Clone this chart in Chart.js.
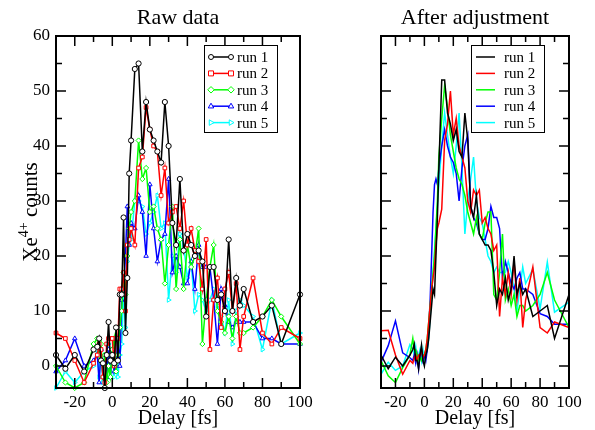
<!DOCTYPE html>
<html lang="en">
<head>
<meta charset="UTF-8">
<title>Xe4+ counts vs delay</title>
<script src="https://cdn.jsdelivr.net/npm/chart.js"></script>
<style>
  html, body { margin: 0; padding: 0; background: #fff; }
  .wrap { position: relative; width: 595px; height: 430px; }
  .wrap canvas { position: absolute; left: 0; top: 0; }
</style>
</head>
<body>
<div class="wrap">
  <canvas id="rawChart" width="595" height="430"></canvas>
  <canvas id="adjChart" width="595" height="430"></canvas>
</div>
<script>
// delay values [fs], shared by all runs
const delays = [-30, -25, -20, -15, -10,
  -8, -7, -6, -5, -4, -3, -2, -1, 0, 1, 2, 3, 4, 5, 6, 7, 8, 9, 10,
  12, 14, 16, 18, 20, 22, 24, 26, 28, 30, 32, 34, 36, 38, 40, 42, 44, 46, 48, 50,
  52, 54, 56, 58, 60, 62, 64, 66, 68, 70,
  75, 80, 85, 90, 100];

// raw counts
const run1Raw = [2, -0.5, 2, -1, 3,
  3.5, 5, 1, 0.5, -4, 2, 8, 1, 2, 0.5, 7, 1, 13, 13, 27, 6, 16, 35, 41,
  54, 55, 39, 48, 43, 41, 39, 37, 48, 40, 26, 22, 34, 21, 24, 22, 20, 21, 19, 9,
  18, 18, 12, 13, 10, 23, 10, 16, 11, 14,
  8, 9, 11, 4, 13];
const run2Raw = [6, 5, 1, -3, 0.5,
  2, 4, 3, -2, -3, 4, 5, 5, 5, 0, 5, 5, 14, 14, 17, 10, 22, 23, 25,
  22, 36, 38, 47, 43, 40, 39, 31, 36, 26, 28, 29, 25, 30, 22, 25, 21, 19, 14, 23,
  3, 12, 16, 7, 14, 17, 10, 15, 3, 9,
  16, 6, 4, 7, 5];
const run3Raw = [0, -3, -4, -3, 4,
  5, 2, 4, -2, 2, -3, 0, -2, 3, 5, -1, 2, 7, 10, 17, 13, 20, 25, 28,
  30, 41, 34, 36, 28, 29, 25, 23, 15, 22, 29, 14, 23, 14, 22, 18, 20, 25, 4, 12,
  18, 22, 10, 8, 6, 9, 5, 9, 6, 6,
  7, 9, 12, 9, 4];
const run4Raw = [-1, 1, 5, 0, 1,
  2, -3, 3, -2, 1, -2, 3, -2, 3, -1, 0, 5, 0, 12, 14, 20, 29, 22, 26,
  25, 31, 28, 20, 33, 25, 19, 23, 24, 34, 17, 20, 18, 15, 15, 19, 14, 22, 18, 18,
  18, 12, 4, 14, 11, 8, 7, 8, 8, 8,
  8, 5, 5, 4, 4];
const run5Raw = [-4, -1, -3, -1, 0,
  3, -2, 3, -3, 2, -1, 4, -2, 3, -2, 2, -2, 2, 4, 13, 7, 19, 22, 23,
  30, 30, 29, 24, 26, 28, 31, 25, 26, 12, 20, 17, 24, 22, 16, 19, 10, 13, 12, 10,
  12, 14, 11, 9, 6, 12, 4, 10, 12, 11,
  9, 3, 12, 4, 6];

// counts after adjustment
const run1Adj = [2, -0.5, 1.6, 0, 2,
  3, 4, 1, 1, -0.5, 2, 3.8, 1, 0, 2, 3, 5, 8, 11, 14, 13, 20, 27, 36,
  52, 52, 46, 44, 41, 43, 39, 38, 46, 41, 29, 27, 31, 24, 23, 22, 22, 21, 17, 11,
  14, 13, 16, 12, 14, 20, 13, 15, 13, 14,
  9, 10, 11, 5, 13];
const run2Adj = [6.4, 6.5, 2, -1.5, 1,
  0.5, 1.5, 2, 1, 2, 2, 3, 1.5, 2, 3, 5, 8, 11, 14, 16, 18, 22, 25, 26,
  28.5, 41, 44, 50, 42, 45, 40, 38, 36, 30, 28, 32, 31, 32, 26, 27, 25, 24, 21, 22,
  9, 16, 13, 17, 13, 19, 12, 16, 7, 12,
  18, 7, 6, 8, 7];
const run3Adj = [1, -1.8, -3, -0.3, 2,
  5, 3, 3, 2, 1, 1.5, 1, 2, 2, 3, 5, 8, 11, 14, 17, 20, 25, 30, 38,
  45, 51, 47, 42, 39, 36, 34, 33, 31, 28, 26, 24, 27, 24, 23, 26, 28, 28, 13, 12,
  17, 24, 12, 14, 11, 13, 9, 11, 11, 10,
  11, 13, 17, 12, 7];
const run4Adj = [0.7, 3.7, 8.2, 2.4, 1.5,
  1, 2, 0.5, 2, -0.5, 2, 3, 1, 2, 1, 3, 7, 12, 20, 28, 33, 34, 33, 36,
  40, 43, 40, 38, 37, 35, 30, 36, 40, 42, 29, 27, 26, 24, 23, 23, 25, 29, 27, 27,
  25, 16, 19, 17, 15, 14, 16, 17, 14, 14,
  13, 9.5, 9, 7.6, 7.6];
const run5Adj = [-1.5, 0.7, -0.8, 0, 3.9,
  3, 2, 3.5, 1, 2, 3, 1, 3, 1, 2, 3, 5, 9, 13, 17, 21, 25, 29, 33,
  40, 46, 42, 38, 35, 40, 46, 36, 24, 30, 34, 38, 30, 27, 26, 23, 20, 19, 17, 18,
  17, 17, 17, 19, 17, 14, 10, 14, 18, 15,
  17.6, 10.4, 18.9, 9.8, 11.6];

const runNames = ['run 1', 'run 2', 'run 3', 'run 4', 'run 5'];
const runColors = ['#000000', '#ff0000', '#00ff00', '#0000ff', '#00ffff'];
const xLabelTicks = [-20, 0, 20, 40, 60, 80, 100];
const xMinorTicks = [-20, -10, 0, 10, 20, 30, 40, 50, 60, 70, 80, 90, 100];
const yLabelTicks = [0, 10, 20, 30, 40, 50, 60];
const yMinorTicks = [0, 5, 10, 15, 20, 25, 30, 35, 40, 45, 50, 55, 60];

const SERIF = '"Liberation Serif", "DejaVu Serif", serif';
const markers = [
  { style: 'circle', rot: 0 },
  { style: 'rect', rot: 0 },
  { style: 'rectRot', rot: 0 },
  { style: 'triangle', rot: 0 },
  { style: 'triangle', rot: 90 }
];

function pts(ys) {
  return delays.map((d, i) => ({ x: d, y: ys[i] }));
}

// frame + inward tick marks
const frameTicks = {
  id: 'frameTicks',
  afterDatasetsDraw(chart, args, opts) {
    const { ctx, chartArea: a, scales: { x, y } } = chart;
    ctx.save();
    ctx.strokeStyle = '#000';
    ctx.lineWidth = 1.5;
    ctx.beginPath();
    xMinorTicks.forEach(v => {
      const px = x.getPixelForValue(v);
      const len = xLabelTicks.includes(v) ? 10 : 6;
      ctx.moveTo(px, a.bottom); ctx.lineTo(px, a.bottom - len);
      ctx.moveTo(px, a.top); ctx.lineTo(px, a.top + len);
    });
    yMinorTicks.forEach(v => {
      const py = y.getPixelForValue(v);
      const len = yLabelTicks.includes(v) ? 10 : 6;
      ctx.moveTo(a.left, py); ctx.lineTo(a.left + len, py);
      if (opts.rightTicks) { ctx.moveTo(a.right, py); ctx.lineTo(a.right - len, py); }
    });
    ctx.stroke();
    ctx.lineWidth = 2;
    ctx.strokeRect(a.left, a.top, a.right - a.left, a.bottom - a.top);
    ctx.restore();
  }
};

function drawMarker(ctx, m, cx, cy, r) {
  ctx.beginPath();
  if (m.style === 'circle') {
    ctx.arc(cx, cy, r, 0, Math.PI * 2);
  } else if (m.style === 'rect') {
    ctx.rect(cx - r, cy - r, 2 * r, 2 * r);
  } else if (m.style === 'rectRot') {
    ctx.moveTo(cx, cy - r * 1.3); ctx.lineTo(cx + r * 1.3, cy);
    ctx.lineTo(cx, cy + r * 1.3); ctx.lineTo(cx - r * 1.3, cy); ctx.closePath();
  } else if (m.rot === 90) {
    ctx.moveTo(cx + r * 1.2, cy); ctx.lineTo(cx - r * 0.7, cy - r * 1.1);
    ctx.lineTo(cx - r * 0.7, cy + r * 1.1); ctx.closePath();
  } else {
    ctx.moveTo(cx, cy - r * 1.2); ctx.lineTo(cx + r * 1.1, cy + r * 0.7);
    ctx.lineTo(cx - r * 1.1, cy + r * 0.7); ctx.closePath();
  }
  ctx.fillStyle = '#fff';
  ctx.fill();
  ctx.stroke();
}

// legend box inside the plot
const boxLegend = {
  id: 'boxLegend',
  afterDraw(chart, args, o) {
    const ctx = chart.ctx;
    ctx.save();
    ctx.fillStyle = '#fff';
    ctx.fillRect(o.x, o.y, o.w, o.h);
    ctx.strokeStyle = '#000';
    ctx.lineWidth = 1;
    ctx.strokeRect(o.x + 0.5, o.y + 0.5, o.w, o.h);
    chart.data.datasets.forEach((ds, i) => {
      const cy = o.y + o.first + i * o.step;
      ctx.strokeStyle = ds.borderColor;
      ctx.lineWidth = 1.5;
      ctx.beginPath();
      ctx.moveTo(o.lineX0, cy); ctx.lineTo(o.lineX1, cy);
      ctx.stroke();
      if (o.markers) {
        ctx.lineWidth = 1;
        drawMarker(ctx, markers[i], o.lineX0 + 1, cy, 2.5);
        drawMarker(ctx, markers[i], o.lineX1 - 1, cy, 2.5);
      }
      ctx.fillStyle = '#000';
      ctx.font = '15px ' + SERIF;
      ctx.textBaseline = 'middle';
      ctx.textAlign = 'left';
      ctx.fillText(ds.label, o.textX, cy + 1);
    });
    ctx.restore();
  }
};

// panel title, x title and (left only) y title with superscript
const texts = {
  id: 'texts',
  afterDraw(chart, args, o) {
    const { ctx, chartArea: a } = chart;
    const cx = (a.left + a.right) / 2;
    ctx.save();
    ctx.fillStyle = '#000';
    ctx.textAlign = 'center';
    ctx.textBaseline = 'alphabetic';
    ctx.font = '22px ' + SERIF;
    ctx.fillText(o.title, cx, 24);
    ctx.font = '20px ' + SERIF;
    ctx.fillText('Delay [fs]', cx, 424);
    if (o.yTitle) {
      ctx.translate(37, (a.top + a.bottom) / 2);
      ctx.rotate(-Math.PI / 2);
      ctx.textAlign = 'left';
      const big = '21px ' + SERIF, small = '14px ' + SERIF;
      ctx.font = big; const w1 = ctx.measureText('Xe').width;
      ctx.font = small; const w2 = ctx.measureText('4+').width;
      ctx.font = big; const w3 = ctx.measureText(' counts').width;
      let sx = -(w1 + w2 + w3) / 2;
      ctx.font = big; ctx.fillText('Xe', sx, 0); sx += w1;
      ctx.font = small; ctx.fillText('4+', sx, -9); sx += w2;
      ctx.font = big; ctx.fillText(' counts', sx, 0);
    }
    ctx.restore();
  }
};

function makeChart(id, series, withMarkers, layoutPad, extra) {
  const datasets = series.map((ys, i) => ({
    label: runNames[i],
    data: pts(ys),
    borderColor: runColors[i],
    backgroundColor: runColors[i],
    borderWidth: 1.5,
    pointRadius: withMarkers ? 2.6 : 0,
    pointStyle: markers[i].style,
    pointRotation: markers[i].rot,
    pointBorderWidth: 1,
    pointBackgroundColor: '#fff',
    pointBorderColor: runColors[i],
    tension: 0,
    clip: 4
  }));
  return new Chart(document.getElementById(id), {
    type: 'line',
    data: { datasets: datasets },
    options: {
      responsive: false,
      animation: false,
      devicePixelRatio: 1,
      layout: { padding: layoutPad },
      plugins: {
        legend: { display: false },
        tooltip: { enabled: false },
        frameTicks: { rightTicks: extra.rightTicks },
        boxLegend: extra.legend,
        texts: { title: extra.title, yTitle: extra.yTitle }
      },
      scales: {
        x: {
          type: 'linear',
          min: -30,
          max: 100,
          afterBuildTicks: s => { s.ticks = xLabelTicks.map(v => ({ value: v })); },
          afterFit: s => { s.height = 42; },
          grid: { display: false, drawTicks: false },
          border: { display: false },
          ticks: { color: '#000', padding: 4, maxRotation: 0, font: { family: SERIF, size: 17 } }
        },
        y: {
          display: extra.yLabels,
          min: -4,
          max: 60,
          afterBuildTicks: s => { s.ticks = yLabelTicks.map(v => ({ value: v })); },
          afterFit: s => { s.width = 56; },
          grid: { display: false, drawTicks: false },
          border: { display: false },
          ticks: { color: '#000', padding: 6, font: { family: SERIF, size: 17 } }
        }
      }
    },
    plugins: [frameTicks, boxLegend, texts]
  });
}

makeChart('rawChart', [run1Raw, run2Raw, run3Raw, run4Raw, run5Raw], true,
  { left: 0, top: 36, right: 295, bottom: 0 },
  {
    rightTicks: false, yLabels: true, yTitle: true, title: 'Raw data',
    legend: { x: 204, y: 45, w: 73, h: 87, first: 12, step: 16.4, lineX0: 210, lineX1: 232, textX: 237, markers: true }
  });

makeChart('adjChart', [run1Adj, run2Adj, run3Adj, run4Adj, run5Adj], false,
  { left: 325, top: 36, right: 26, bottom: 0 },
  {
    rightTicks: true, yLabels: false, yTitle: false, title: 'After adjustment',
    legend: { x: 471, y: 45, w: 73, h: 87, first: 12, step: 16.4, lineX0: 476, lineX1: 495, textX: 504, markers: false }
  });
</script>
</body>
</html>
